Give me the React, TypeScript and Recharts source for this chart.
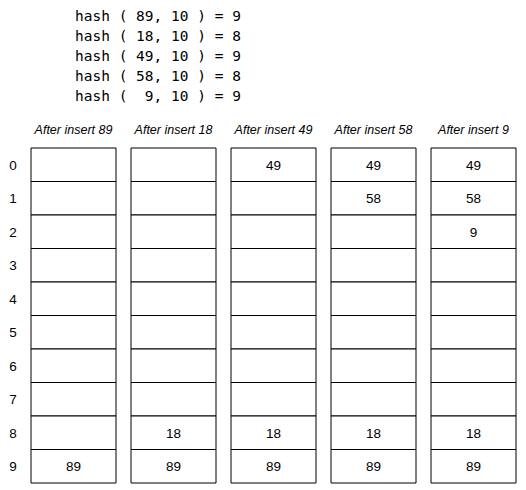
import React from 'react';
import { BarChart, Bar, XAxis, YAxis, LabelList } from 'recharts';

const hashLines = [
  'hash ( 89, 10 ) = 9',
  'hash ( 18, 10 ) = 8',
  'hash ( 49, 10 ) = 9',
  'hash ( 58, 10 ) = 8',
  'hash (  9, 10 ) = 9',
];

const columns = ['After insert 89', 'After insert 18', 'After insert 49', 'After insert 58', 'After insert 9'];
const rowLabels = ['0', '1', '2', '3', '4', '5', '6', '7', '8', '9'];

// cell contents per column, row 0..9
const col89 = ['', '', '', '', '', '', '', '', '', '89'];
const col18 = ['', '', '', '', '', '', '', '', '18', '89'];
const col49 = ['49', '', '', '', '', '', '', '', '18', '89'];
const col58 = ['49', '58', '', '', '', '', '', '', '18', '89'];
const col9 = ['49', '58', '9', '', '', '', '', '', '18', '89'];
const cells = [col89, col18, col49, col58, col9];

const data = columns.map((name) => {
  const obj: any = { name };
  rowLabels.forEach((_, r) => (obj['r' + r] = 1));
  return obj;
});

const XTick = (props: any) => (
  <text x={props.x} y={props.y - 6} textAnchor="middle" fontFamily="Liberation Sans, Arial" fontStyle="italic" fontSize={12.5} fill="#000">
    {props.payload.value}
  </text>
);

const YTick = (props: any) => (
  <text x={13} y={props.y + 5} textAnchor="middle" fontFamily="Liberation Sans, Arial" fontSize={13.5} fill="#000">
    {Math.floor(props.payload.value)}
  </text>
);

export default function App() {
  return (
    <div style={{ position: 'absolute', left: 0, top: 0, width: 526, height: 490, background: '#fff' }}>
      <div style={{ position: 'absolute', left: 75, top: 6, fontFamily: 'DejaVu Sans Mono, monospace', fontSize: 14.5, lineHeight: '20px', whiteSpace: 'pre' }}>
        {hashLines.map((l) => (
          <div key={l}>{l}</div>
        ))}
      </div>
      <div style={{ position: 'absolute', left: 0, top: 0 }}>
        <BarChart width={526} height={490} data={data} margin={{ top: 100, right: 2.5, left: 0.5, bottom: 7 }} barCategoryGap={7.5}>
          <XAxis dataKey="name" orientation="top" height={48} axisLine={false} tickLine={false} tick={<XTick />} interval={0} />
          <YAxis width={23} reversed domain={[0, 10]} ticks={rowLabels.map((_, i) => i + 0.5)} axisLine={false} tickLine={false} tick={<YTick />} />
          {rowLabels.map((_, r) => (
            <Bar key={r} dataKey={'r' + r} stackId="a" fill="#fff" stroke="#000" strokeWidth={1} isAnimationActive={false}>
              <LabelList
                content={(p: any) => (
                  <text x={p.x + p.width / 2} y={p.y + p.height / 2 + 5} textAnchor="middle" fontFamily="Liberation Sans, Arial" fontSize={13.5} fill="#000">
                    {cells[p.index][r]}
                  </text>
                )}
              />
            </Bar>
          ))}
        </BarChart>
      </div>
    </div>
  );
}
